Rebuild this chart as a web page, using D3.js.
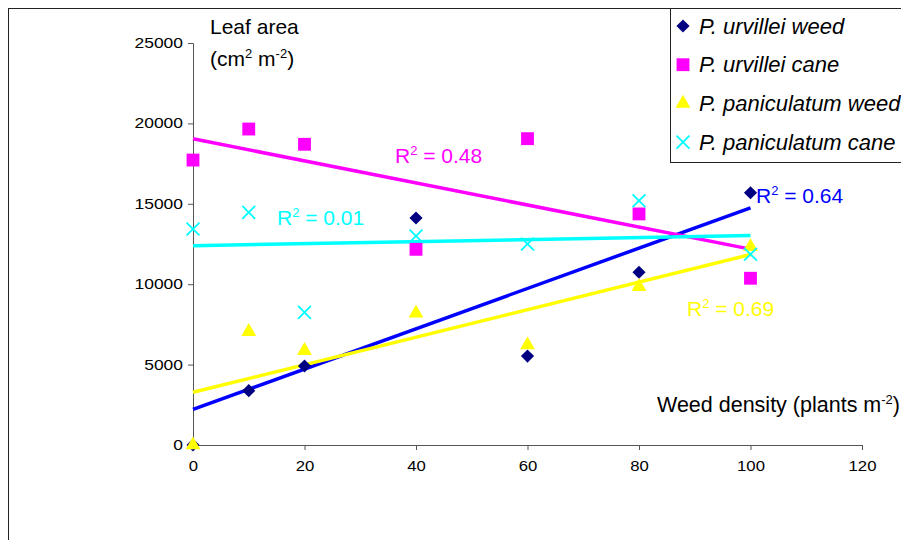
<!DOCTYPE html>
<html>
<head>
<meta charset="utf-8">
<script src="https://cdn.jsdelivr.net/npm/d3@7"></script>
<style>
  body { margin: 0; background: #fff; }
  svg { font-family: "Liberation Sans", Arial, sans-serif; }
</style>
</head>
<body>
<div id="chart"></div>
<script>
// weed density (plants m-2)
var densities = [0, 10, 20, 40, 60, 80, 100];

// leaf area (cm2 m-2)
var urvilleiWeed = [0, 3380, 4910, 14120, 5530, 10740, 15690];
var urvilleiCane = [17720, 19650, 18700, 12170, 19050, 14370, 10370];
var paniculatumWeed = [0, 7050, 5870, 8190, 6220, 9850, 12330];
var paniculatumCane = [13430, 14470, 8250, 13000, 12500, 15190, 11860];

var seriesNames = ["P. urvillei weed", "P. urvillei cane", "P. paniculatum weed", "P. paniculatum cane"];
var r2Labels = ["0.64", "0.48", "0.69", "0.01"];
var xTicks = [0, 20, 40, 60, 80, 100, 120];
var yTicks = [0, 5000, 10000, 15000, 20000, 25000];

var svgWidth = 901;
var svgHeight = 540;

var svg = d3.select("#chart")
  .append("svg")
  .attr("width", svgWidth)
  .attr("height", svgHeight);

// outer chart border
svg.append("rect")
  .attr("x", 8.5)
  .attr("y", 8.5)
  .attr("width", 920)
  .attr("height", 560)
  .attr("fill", "none")
  .attr("stroke", "#222");

var x = d3.scaleLinear().domain([0, 120]).range([193, 862]);
var y = d3.scaleLinear().domain([0, 25000]).range([445, 43]);

var series = [
  { name: seriesNames[0], values: urvilleiWeed, marker: "diamond", color: "#000080", line: "#0000ff", r2: r2Labels[0], lx: 756, ly: 203 },
  { name: seriesNames[1], values: urvilleiCane, marker: "square", color: "#ff00ff", line: "#ff00ff", r2: r2Labels[1], lx: 395, ly: 163 },
  { name: seriesNames[2], values: paniculatumWeed, marker: "triangle", color: "#ffff00", line: "#ffff00", r2: r2Labels[2], lx: 687, ly: 316 },
  { name: seriesNames[3], values: paniculatumCane, marker: "cross", color: "#00ffff", line: "#00ffff", r2: r2Labels[3], lx: 277, ly: 225 }
];

// axes
var axisColor = "#555";
var leftAxis = d3.axisLeft(y).tickValues(yTicks).tickSize(5).tickFormat(d3.format("d"));
var bottomAxis = d3.axisBottom(x).tickValues(xTicks).tickSize(5).tickFormat(d3.format("d"));

var yAxisG = svg.append("g")
  .attr("transform", `translate(${x(0)},0)`)
  .call(leftAxis);
var xAxisG = svg.append("g")
  .attr("transform", `translate(0,${y(0)})`)
  .call(bottomAxis);

[yAxisG, xAxisG].forEach(function(g) {
  g.select(".domain").attr("stroke", axisColor).attr("stroke-width", 1);
  g.selectAll(".tick line").attr("stroke", axisColor);
  g.selectAll(".tick text")
    .attr("fill", "#000")
    .attr("font-size", 14)
    .attr("font-family", "Liberation Sans, Arial, sans-serif")
    .attr("lengthAdjust", "spacingAndGlyphs");
});
// the original labels are a little stretched sideways
yAxisG.selectAll(".tick text")
  .attr("x", -10)
  .attr("textLength", d => String(d).length * 9.7);
xAxisG.selectAll(".tick text")
  .attr("y", 16)
  .attr("textLength", d => String(d).length * 9.3);

// least squares trendline, as Excel draws it
function fit(values) {
  var mx = d3.mean(densities), my = d3.mean(values);
  var sxy = d3.sum(densities, (d, i) => (d - mx) * (values[i] - my));
  var sxx = d3.sum(densities, d => (d - mx) * (d - mx));
  var slope = sxy / sxx;
  return { slope: slope, intercept: my - slope * mx };
}

var trendG = svg.append("g");
series.forEach(function(s) {
  var f = fit(s.values);
  trendG.append("line")
    .attr("x1", x(0))
    .attr("y1", y(f.intercept))
    .attr("x2", x(100))
    .attr("y2", y(f.intercept + f.slope * 100))
    .attr("stroke", s.line)
    .attr("stroke-width", 3.5);
});

var symbols = {
  diamond: d3.symbol().type(d3.symbolDiamond2).size(110),
  square: d3.symbol().type(d3.symbolSquare).size(165),
  triangle: d3.symbol().type(d3.symbolTriangle).size(95),
  cross: d3.symbol().type(d3.symbolTimes).size(110)
};

function drawMarker(g, s, cx, cy) {
  var p = g.append("path")
    .attr("d", symbols[s.marker]())
    .attr("transform", `translate(${cx},${cy})`);
  if (s.marker === "cross") {
    p.attr("fill", "none").attr("stroke", s.color).attr("stroke-width", 1.8);
  } else {
    p.attr("fill", s.color);
  }
}

var pointsG = svg.append("g");
series.forEach(function(s) {
  s.values.forEach(function(v, i) {
    drawMarker(pointsG, s, x(densities[i]), y(v));
  });
});

// R squared labels
series.forEach(function(s) {
  var t = svg.append("text")
    .attr("x", s.lx)
    .attr("y", s.ly)
    .attr("fill", s.line)
    .attr("font-size", 21);
  t.append("tspan").text("R");
  t.append("tspan").attr("dy", -8).attr("font-size", 13).text("2");
  t.append("tspan").attr("dy", 8).text(" = " + s.r2);
});

// axis titles
var yTitle = svg.append("text").attr("font-size", 21).attr("fill", "#000");
yTitle.append("tspan").attr("x", 210).attr("y", 34).text("Leaf area");
yTitle.append("tspan").attr("x", 210).attr("y", 66).text("(cm");
yTitle.append("tspan").attr("dy", -8).attr("font-size", 13).text("2");
yTitle.append("tspan").attr("dy", 8).text(" m");
yTitle.append("tspan").attr("dy", -8).attr("font-size", 13).text("-2");
yTitle.append("tspan").attr("dy", 8).text(")");

var xTitle = svg.append("text")
  .attr("x", 657)
  .attr("y", 412)
  .attr("font-size", 21.5)
  .attr("fill", "#000");
xTitle.append("tspan").text("Weed density (plants m");
xTitle.append("tspan").attr("dy", -8).attr("font-size", 13).text("-2");
xTitle.append("tspan").attr("dy", 8).text(")");

// legend
var legend = svg.append("g");
legend.append("rect")
  .attr("x", 670.5)
  .attr("y", 8.5)
  .attr("width", 260)
  .attr("height", 154)
  .attr("fill", "#fff")
  .attr("stroke", "#222");

series.forEach(function(s, i) {
  var cy = 26 + i * 38.7;
  drawMarker(legend, s, 683, cy);
  legend.append("text")
    .attr("x", 699)
    .attr("y", cy + 7.5)
    .attr("font-size", 22)
    .attr("font-style", "italic")
    .attr("fill", "#000")
    .text(s.name);
});
</script>
</body>
</html>
